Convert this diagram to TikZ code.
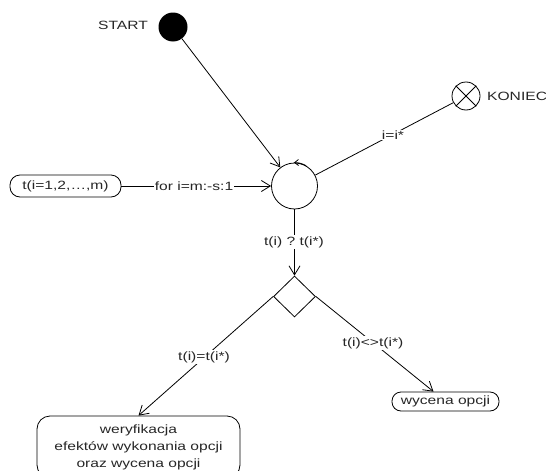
\documentclass[tikz,border=0pt]{standalone}
\usepackage{fontspec}
\setmainfont[FakeStretch=1.3]{Liberation Sans}
\usetikzlibrary{arrows.meta,shapes.geometric}
\frenchspacing
\begin{document}
\begin{tikzpicture}[x=1pt,y=-1pt,
  every node/.style={font=\fontsize{12}{17}\selectfont, inner sep=0pt, text=black!85},
  ln/.style={line width=0.8pt},
  arr/.style={ln,-{Straight Barb[length=9pt,width=11pt,line width=0.8pt]}},
  lbl/.style={fill=white, inner sep=1pt},
  rbox/.style={draw, line width=0.8pt, rounded corners=9pt, align=center},
]
\useasboundingbox (0,0) rectangle (546,471);
% nodes
\node[circle, fill=black, minimum size=29pt] (start) at (173,27) {};
\node[anchor=east] (startl) at (148,25) {START};
\node[circle, draw, ln, minimum size=28pt] (kon) at (466,96) {};
\draw[ln] (kon.45) -- (kon.225) (kon.135) -- (kon.315);
\node[anchor=west] (konl) at (487,96) {KONIEC};
\node[circle, draw, ln, minimum size=46pt] (loop) at (294.5,186) {};
\node[rbox, minimum width=111pt, minimum height=22pt, rounded corners=10pt] (src) at (65.5,186) {t(i=1,2,…,m)};
\node[diamond, draw, ln, minimum width=42pt, minimum height=41pt] (dia) at (294.5,296.5) {};
\node[rbox, minimum width=203pt, minimum height=62pt, rounded corners=13pt] (big) at (138.5,447) {weryfikacja\\efektów wykonania opcji\\oraz wycena opcji};
\node[rbox, minimum width=107pt, minimum height=19pt] (wyc) at (445.5,401.5) {wycena opcji};
% connectors
\draw[arr] (start) -- (loop);
\draw[ln] (kon) -- (loop);
\node[lbl] (l1) at (393,135) {i=i*};
\draw[arr] (src) -- (loop);
\node[lbl] (l2) at (194,186) {for i=m:-s:1};
\draw[arr] (loop) -- (dia);
\node[lbl] (l3) at (294,242) {t(i) ? t(i*)};
\draw[arr] (dia.west) -- (big.north);
\node[lbl] (l4) at (204,357) {t(i)=t(i*)};
\draw[arr] (dia.east) -- ([xshift=-12pt]wyc.north);
\node[lbl] (l5) at (373,343) {t(i)<>t(i*)};
\draw[ln, -{Straight Barb[length=4pt,width=6pt,line width=0.8pt]}] (loop.60) arc[start angle=60, end angle=92, radius=23pt];
\end{tikzpicture}
\end{document}
